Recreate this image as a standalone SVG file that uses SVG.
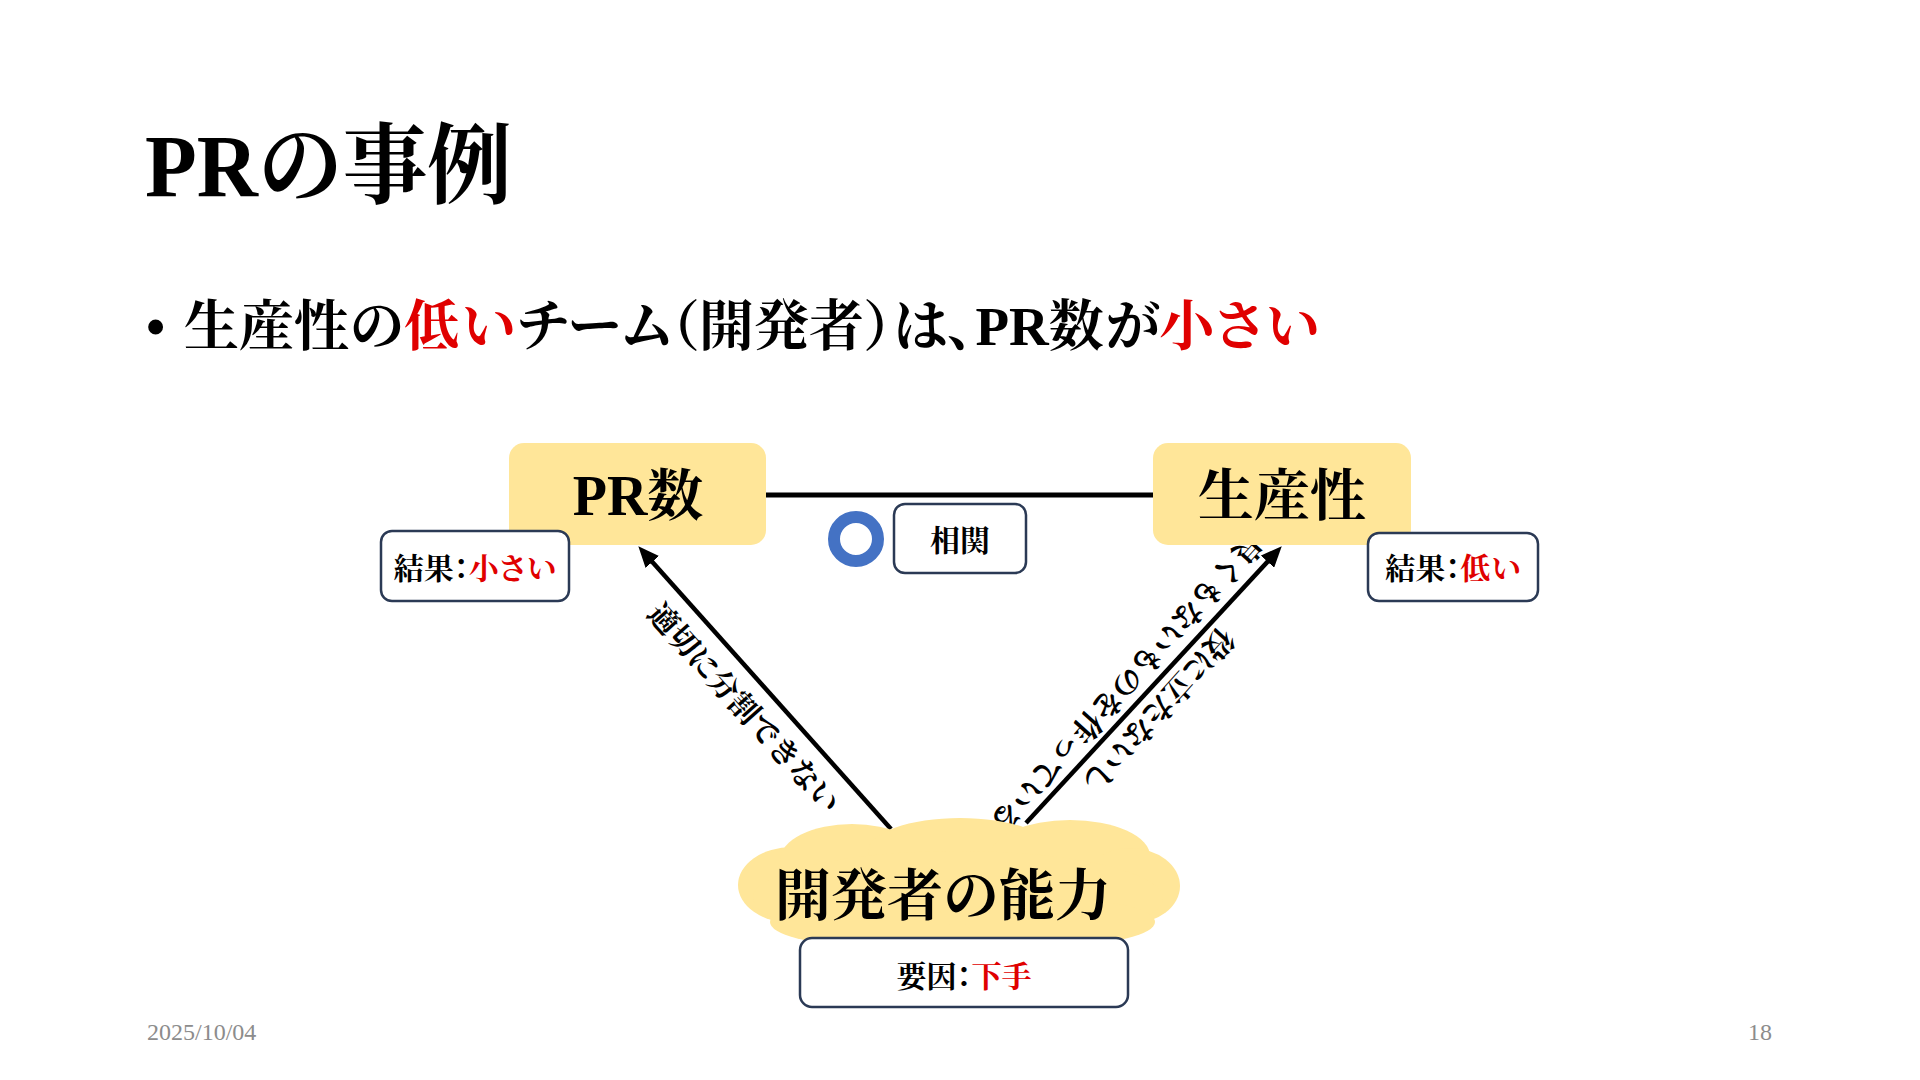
<svg xmlns="http://www.w3.org/2000/svg" width="1920" height="1080" viewBox="0 0 1920 1080">
<defs>
<style>
text{font-family:"Liberation Serif","Noto Serif CJK JP","Noto Sans CJK JP",serif;fill:#000}
.palt{font-feature-settings:"palt" 1}
.title{font-size:88px;font-weight:700}
.bullet{font-size:55px;font-weight:700}
.red{fill:#E00000}
.node{fill:#FFE699}
.nlabel{font-size:56px;font-weight:700;text-anchor:middle}
.box{fill:#FFFFFF;stroke:#2B3A55;stroke-width:2.5}
.blabel{font-size:30px;font-weight:700;text-anchor:middle}
.alabel{font-size:30px;font-weight:700;text-anchor:middle}
.conn{stroke:#000;stroke-width:4.5;fill:none}
.foot{font-size:24px;fill:#8C8C8C}
</style>
<marker id="ah" markerUnits="userSpaceOnUse" markerWidth="22" markerHeight="18" refX="14" refY="9" orient="auto">
<path d="M0,0 L21,9 L0,18 Z" fill="#000"/>
</marker>
</defs>
<rect width="1920" height="1080" fill="#FFFFFF"/>

<text class="title" x="145" y="196" textLength="367" lengthAdjust="spacingAndGlyphs">PRの事例</text>

<text class="bullet" x="146" y="345">•</text>
<text class="bullet palt" x="184" y="345">生産性の<tspan class="red">低い</tspan>チーム（開発者）は、PR数が<tspan class="red">小さい</tspan></text>

<g id="connectors">
<line class="conn" x1="766" y1="495" x2="1153" y2="495" style="stroke-width:5"/>
<line class="conn" x1="891" y1="829" x2="643" y2="551.5" marker-end="url(#ah)"/>
<line class="conn" x1="1026" y1="823" x2="1277" y2="551.4" marker-end="url(#ah)"/>
<text class="alabel" transform="translate(744,708) rotate(48)" dominant-baseline="central">適切に分割できない</text>
<text class="alabel" transform="translate(1143,697) rotate(132)" dominant-baseline="central"><tspan x="0" y="-21">役に立たないし</tspan><tspan x="0" y="21">良くもないものを作っている</tspan></text>
</g>

<g id="node-pr">
<rect class="node" x="509" y="443" width="257" height="102" rx="15"/>
<text class="nlabel" x="638" y="515">PR数</text>
</g>

<g id="node-productivity">
<rect class="node" x="1153" y="443" width="258" height="102" rx="15"/>
<text class="nlabel" x="1282" y="515">生産性</text>
</g>

<g id="correlation">
<circle cx="856" cy="539" r="22" fill="none" stroke="#4472C4" stroke-width="12"/>
<rect class="box" x="894" y="504" width="132" height="69" rx="11"/>
<text class="blabel" x="960" y="551">相関</text>
</g>

<g id="result-pr">
<rect class="box" x="381" y="531" width="188" height="70" rx="11"/>
<text class="blabel palt" x="475" y="579">結果：<tspan class="red">小さい</tspan></text>
</g>

<g id="result-productivity">
<rect class="box" x="1368" y="533" width="170" height="68" rx="11"/>
<text class="blabel palt" x="1453" y="579">結果：<tspan class="red">低い</tspan></text>
</g>

<g id="node-ability">
<g class="node">
<ellipse cx="792" cy="885" rx="54" ry="38"/>
<ellipse cx="852" cy="860" rx="72" ry="36"/>
<ellipse cx="960" cy="851" rx="92" ry="33"/>
<ellipse cx="1070" cy="856" rx="80" ry="36"/>
<ellipse cx="1130" cy="886" rx="50" ry="38"/>
<ellipse cx="958" cy="898" rx="205" ry="47"/>
<ellipse cx="860" cy="922" rx="90" ry="23"/>
<ellipse cx="1060" cy="922" rx="95" ry="23"/>
</g>
<text class="nlabel" x="943" y="915">開発者の能力</text>
</g>

<g id="cause">
<rect class="box" x="800" y="938" width="328" height="69" rx="12"/>
<text class="blabel palt" x="964" y="987">要因：<tspan class="red">下手</tspan></text>
</g>

<text class="foot" x="147" y="1040">2025/10/04</text>
<text class="foot" x="1772" y="1040" text-anchor="end">18</text>
</svg>
